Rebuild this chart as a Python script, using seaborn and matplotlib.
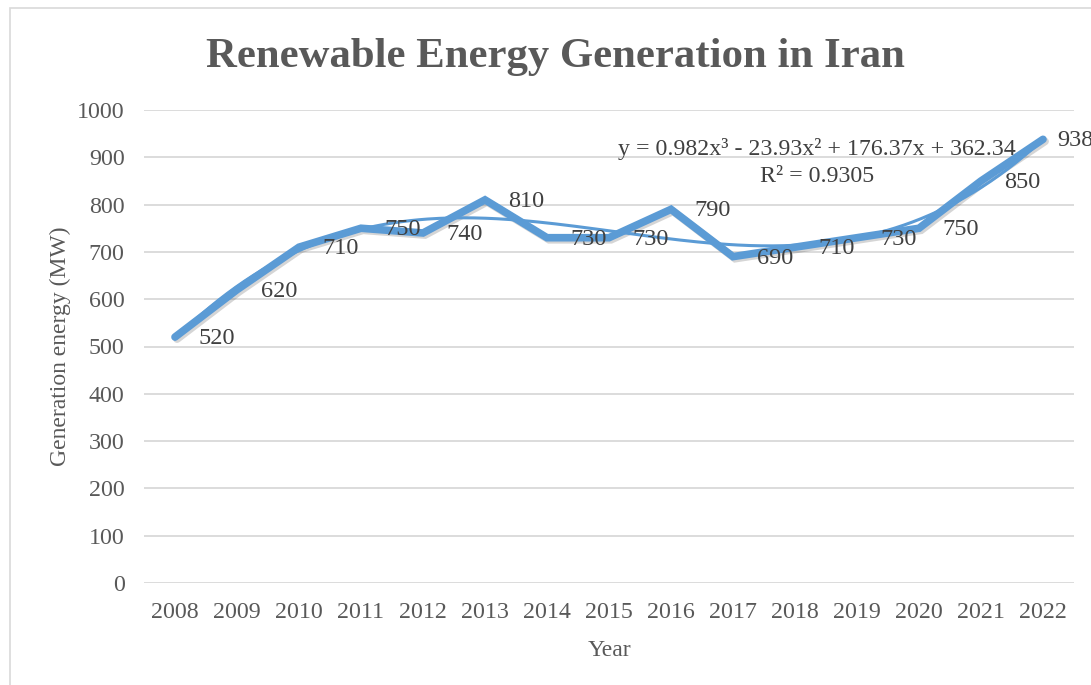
import numpy as np
import pandas as pd
import seaborn as sns
import matplotlib
matplotlib.use("Agg")
import matplotlib.pyplot as plt
import matplotlib.patheffects as pe
from matplotlib.patches import Rectangle

years = ["2008", "2009", "2010", "2011", "2012", "2013", "2014", "2015",
         "2016", "2017", "2018", "2019", "2020", "2021", "2022"]
generation = [520, 620, 710, 750, 740, 810, 730, 730, 790, 690, 710, 730, 750, 850, 938]
yticks = [0, 100, 200, 300, 400, 500, 600, 700, 800, 900, 1000]

sns.set_theme(style="white")
plt.rcParams['font.family'] = ['Liberation Serif', 'DejaVu Serif']

W, H = 1091, 685
fig = plt.figure(figsize=(W / 100, H / 100), dpi=100)
ax = fig.add_axes([144 / W, 1 - 583 / H, 930 / W, (583 - 110) / H])

# outer chart border
fig.patches.append(Rectangle((10 / W, -0.01), 1.1, 1 - 8 / H + 0.01, transform=fig.transFigure,
                             fill=False, edgecolor="#D9D9D9", linewidth=1.2))

blue = "#5B9BD5"
txt = "#595959"
df = pd.DataFrame({"pos": np.arange(len(years)), "gen": generation})

sns.lineplot(data=df, x="pos", y="gen", ax=ax, color=blue, linewidth=5.5,
             solid_joinstyle="miter", solid_capstyle="round", zorder=3,
             path_effects=[pe.SimpleLineShadow(offset=(1.5, -1.5), alpha=0.18, rho=0.5), pe.Normal()])

# cubic polynomial trendline (Excel style, x = 1..n)
xn = np.arange(1, len(years) + 1)
coef = np.polyfit(xn, generation, 3)
xs = np.linspace(1, len(years), 300)
ax.plot(xs - 1, np.polyval(coef, xs), color=blue, linewidth=2.2, zorder=4)

for i, v in enumerate(generation):
    off = 10 if i == len(generation) - 1 else 17
    ax.annotate(f"{v}", (i, v), xytext=(off, -1), textcoords="offset points",
                ha="left", va="center", fontsize=17.5, color="#404040", zorder=5,
                annotation_clip=False)

ax.text(10.35, 918, "y = 0.982x³ - 23.93x² + 176.37x + 362.34", ha="center", va="center",
        fontsize=17.2, color="#404040")
ax.text(10.35, 860, "R² = 0.9305", ha="center", va="center", fontsize=17.2, color="#404040")

ax.set_xlim(-0.5, len(years) - 0.5)
ax.set_ylim(0, 1000)
ax.set_xticks(range(len(years)))
ax.set_xticklabels(years)
ax.set_yticks(yticks)
ax.tick_params(axis="both", length=0, labelsize=17.3, labelcolor=txt)
ax.tick_params(axis="y", pad=14)
ax.tick_params(axis="x", pad=14)
ax.yaxis.grid(True, color="#D9D9D9", linewidth=1.3)
ax.xaxis.grid(False)
for s in ax.spines.values():
    s.set_visible(False)
ax.set_xlabel("Year", fontsize=17, color=txt, labelpad=12)
ax.set_ylabel("Generation energy (MW)", fontsize=17, color=txt, labelpad=4)

fig.text(555 / W, 1 - 57 / H, "Renewable Energy Generation in Iran", ha="center", va="center",
         fontsize=30.8, fontweight="bold", color=txt)

fig.savefig("out.png", dpi=100, facecolor="white")
